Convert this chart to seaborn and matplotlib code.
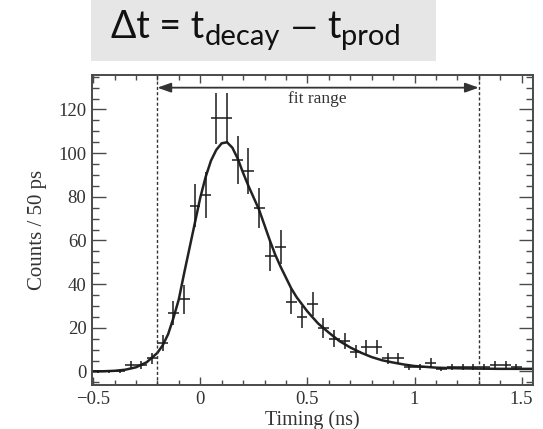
import matplotlib
matplotlib.use("Agg")
import matplotlib.pyplot as plt
import matplotlib.ticker as mticker
from matplotlib.patches import Rectangle
import seaborn as sns
import pandas as pd

# ---- data ----
bin_centers = [-0.475, -0.425, -0.375, -0.325, -0.275, -0.225, -0.175, -0.125, -0.075, -0.025,
               0.025, 0.075, 0.125, 0.175, 0.225, 0.275, 0.325, 0.375, 0.425, 0.475,
               0.525, 0.575, 0.625, 0.675, 0.725, 0.775, 0.825, 0.875, 0.925, 0.975,
               1.025, 1.075, 1.125, 1.175, 1.225, 1.275, 1.325, 1.375, 1.425, 1.475]
counts = [0, 0, 0, 3, 3, 6, 13, 27, 33, 76,
          81, 116, 116, 97, 92, 75, 53, 57, 32, 25,
          31, 20, 15, 14, 9, 11, 11, 6, 6, 2,
          2, 4, 1, 2, 2, 2, 2, 3, 3, 2]
count_err = [0.8, 0.8, 0.8, 1.7, 1.7, 2.5, 3.8, 5.5, 6.8, 10,
             10.5, 11.7, 11.5, 11, 10.5, 9.2, 7.2, 8, 5.7, 5,
             5.5, 4.5, 3.8, 3.6, 3, 3.2, 3.2, 2.4, 2.4, 1.4,
             1.4, 2, 1, 1.4, 1.4, 1.4, 1.4, 1.7, 1.7, 1.4]
bin_half_width = 0.025

fit_x = [-0.50, -0.45, -0.40, -0.35, -0.30, -0.25, -0.20, -0.175, -0.15, -0.125,
         -0.10, -0.075, -0.05, -0.025, 0.00, 0.025, 0.05, 0.075, 0.10, 0.125,
         0.15, 0.175, 0.20, 0.225, 0.25, 0.275, 0.30, 0.325, 0.35, 0.375,
         0.40, 0.425, 0.45, 0.50, 0.55, 0.60, 0.65, 0.70, 0.75, 0.80,
         0.85, 0.90, 0.95, 1.00, 1.10, 1.20, 1.30, 1.40, 1.55]
fit_y = [0.0, 0.1, 0.3, 0.8, 1.9, 4.2, 8.5, 12, 17, 24.5,
         33, 45, 56.5, 68, 79.5, 89, 96.5, 101.5, 104.5, 105,
         102.5, 97.5, 91, 85, 79.5, 74, 67, 60, 53.5, 48,
         43, 38, 34, 27.5, 22, 17.8, 13.9, 11, 8.6, 6.6,
         5.1, 4.1, 3.2, 2.5, 1.75, 1.45, 1.3, 1.2, 1.2]

fit_range = [-0.2, 1.3]
x_ticks = [-0.5, 0, 0.5, 1, 1.5]
x_tick_labels = ["\u22120.5", "0", "0.5", "1", "1.5"]
y_ticks = [0, 20, 40, 60, 80, 100, 120]
y_tick_labels = ["0", "20", "40", "60", "80", "100", "120"]

# ---- styling ----
sns.set_theme(style="ticks")
plt.rcParams["font.family"] = ["Liberation Serif", "DejaVu Serif"]

W, H = 543, 429
fig = plt.figure(figsize=(W / 100, H / 100), dpi=100)
fig.patch.set_facecolor("white")
ax = fig.add_axes([92 / W, 44 / H, 441 / W, 310 / H])
ax.set_facecolor("white")

ink = "#1a1a1a"
frame = "#4a4a4a"

df_fit = pd.DataFrame({"x": fit_x, "y": fit_y})
sns.lineplot(data=df_fit, x="x", y="y", ax=ax, color="#222222", lw=1.8, sort=True)

ax.errorbar(bin_centers, counts, xerr=bin_half_width, yerr=count_err,
            fmt="none", ecolor=ink, elinewidth=1.1, capsize=0)

for xv in fit_range:
    ax.axvline(xv, color="#333333", lw=1.0, ls=(0, (2.2, 1.6)))

ax.annotate("", xy=(fit_range[0], 130), xytext=(fit_range[1], 130),
            arrowprops=dict(arrowstyle="<|-|>,head_length=0.45,head_width=0.16",
                            color="#333333", lw=1.3, mutation_scale=18,
                            shrinkA=0, shrinkB=0))
ax.text(0.548, 124.6, "fit range", ha="center", va="center", fontsize=12.5, color="#333333")

ax.set_xlim(-0.505, 1.553)
ax.set_ylim(-6.2, 135.8)
ax.set_xticks(x_ticks)
ax.set_xticklabels(x_tick_labels)
ax.set_yticks(y_ticks)
ax.set_yticklabels(y_tick_labels)
ax.xaxis.set_minor_locator(mticker.MultipleLocator(0.1))
ax.yaxis.set_minor_locator(mticker.MultipleLocator(5))

ax.tick_params(axis="both", which="both", direction="in", top=True, right=True,
               colors=frame, labelcolor="#333333", labelsize=13.5)
ax.tick_params(axis="x", which="major", length=6, width=1.0, pad=4)
ax.tick_params(axis="x", which="minor", length=3.5, width=1.0)
ax.tick_params(axis="y", which="major", length=10, width=1.0, pad=4)
ax.tick_params(axis="y", which="minor", length=5, width=1.0)
for s in ax.spines.values():
    s.set_color(frame)
    s.set_linewidth(1.4)

ax.set_xlabel("Timing (ns)", fontsize=14.5, color="#333333")
ax.xaxis.set_label_coords(0.5, -39.5 / 310)
ax.xaxis.label.set_va("baseline")
ax.set_ylabel("Counts / 50 ps", fontsize=15, color="#333333", labelpad=8)

# title box
fig.patches.append(Rectangle((91 / W, (H - 61) / H), 345 / W, 61 / H,
                             transform=fig.transFigure, facecolor="#e7e6e6",
                             edgecolor="none", zorder=0))
title_fam = ["Lato", "DejaVu Sans"]
main_base = (H - 38.3) / H
sub_base = (H - 45.5) / H
# (text, baseline, fontsize, gap in px before this piece)
title_parts = [
    ("\u0394t = t", main_base, 27, 0),
    ("decay", sub_base, 21, 1),
    ("\u2014", main_base, 24, 10),
    ("t", main_base, 27, 10),
    ("prod", sub_base, 21, 1),
]
renderer = fig.canvas.get_renderer()
cursor = 111.0
for txt, yb, fs, gap in title_parts:
    cursor += gap
    t = fig.text(cursor / W, yb, txt, family=title_fam, ha="left", va="baseline",
                 fontsize=fs, color="#111111")
    bb = t.get_window_extent(renderer=renderer)
    cursor = bb.x1

fig.savefig("out.png", dpi=100)
